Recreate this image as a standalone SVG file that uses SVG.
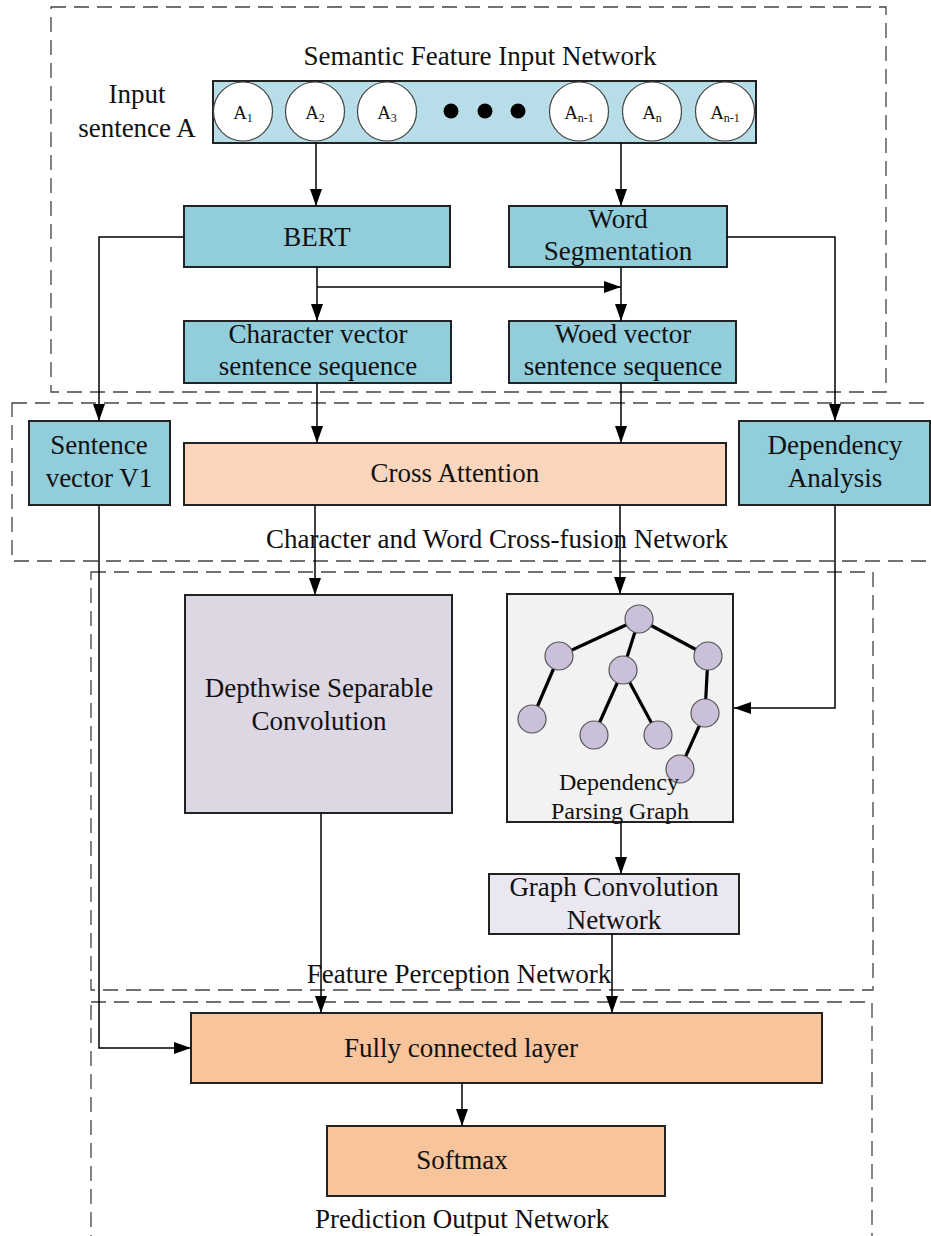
<svg xmlns="http://www.w3.org/2000/svg" width="931" height="1236" viewBox="0 0 931 1236">
<defs>
<marker id="arr" viewBox="0 0 17 12" refX="17" refY="6" markerWidth="17" markerHeight="12" markerUnits="userSpaceOnUse" orient="auto">
<path d="M0,0 L17,6 L0,12 Z" fill="#000"/>
</marker>
<style>
text{font-family:"Liberation Serif","Times New Roman",serif;fill:#111;}
.t{font-size:27px;text-anchor:middle;}
.s{font-size:24px;text-anchor:middle;}
.c{font-size:19px;text-anchor:middle;}
.sub{font-size:12px;}
.dash{fill:none;stroke:#444;stroke-width:1.3;stroke-dasharray:15,8;}
.box{stroke:#222;stroke-width:2;}
.teal{fill:#92CDDC;}
.conn path{fill:none;stroke:#000;stroke-width:1.5;}
.conn .a{marker-end:url(#arr);}
.tree line{stroke:#000;stroke-width:3.2;}
.tree circle{fill:#CBC0D9;stroke:#555;stroke-width:1.2;}
</style>
</defs>
<rect width="931" height="1236" fill="#fff"/>

<g id="regions">
<rect class="dash" x="51" y="7" width="835" height="385"/>
<rect class="dash" x="12" y="403" width="930" height="158"/>
<rect class="dash" x="91" y="572" width="782" height="418"/>
<rect class="dash" x="91" y="1002" width="781" height="240"/>
<text class="t" x="480" y="65">Semantic Feature Input Network</text>
<text class="t" x="497" y="548">Character and Word Cross-fusion Network</text>
<text class="t" x="459" y="983">Feature Perception Network</text>
<text class="t" x="462" y="1228">Prediction Output Network</text>
</g>

<g id="input">
<text class="t" x="137" y="103">Input</text>
<text class="t" x="137" y="137">sentence A</text>
<rect x="213" y="81" width="543" height="62" fill="#B7DEE8" stroke="#222" stroke-width="2"/>
<g fill="#fff" stroke="#444" stroke-width="1.2">
<circle cx="243" cy="111.5" r="29.5"/>
<circle cx="315" cy="111.5" r="29.5"/>
<circle cx="387" cy="111.5" r="29.5"/>
<circle cx="579" cy="111.5" r="29.5"/>
<circle cx="652" cy="111.5" r="29.5"/>
<circle cx="725" cy="111.5" r="29.5"/>
</g>
<g fill="#000">
<circle cx="451" cy="111" r="7.5"/>
<circle cx="485" cy="111" r="7.5"/>
<circle cx="518" cy="111" r="7.5"/>
</g>
<text class="c" x="243" y="119">A<tspan class="sub" dy="3">1</tspan></text>
<text class="c" x="315" y="119">A<tspan class="sub" dy="3">2</tspan></text>
<text class="c" x="387" y="119">A<tspan class="sub" dy="3">3</tspan></text>
<text class="c" x="579" y="119">A<tspan class="sub" dy="3">n-1</tspan></text>
<text class="c" x="652" y="119">A<tspan class="sub" dy="3">n</tspan></text>
<text class="c" x="725" y="119">A<tspan class="sub" dy="3">n-1</tspan></text>
</g>

<g id="bert">
<rect class="box teal" x="184" y="206" width="266" height="61"/>
<text class="t" x="317" y="246">BERT</text>
</g>
<g id="wordseg">
<rect class="box teal" x="509" y="206" width="218" height="61"/>
<text class="t" x="618" y="228">Word</text>
<text class="t" x="618" y="260">Segmentation</text>
</g>
<g id="charvec">
<rect class="box teal" x="184" y="321" width="267" height="62"/>
<text class="t" x="318" y="343">Character vector</text>
<text class="t" x="318" y="375">sentence sequence</text>
</g>
<g id="wordvec">
<rect class="box teal" x="509" y="321" width="227" height="62"/>
<text class="t" x="623" y="343">Woed vector</text>
<text class="t" x="623" y="375">sentence sequence</text>
</g>
<g id="sentvec">
<rect class="box teal" x="29" y="421" width="141" height="84"/>
<text class="t" x="99" y="454">Sentence</text>
<text class="t" x="99" y="487">vector V1</text>
</g>
<g id="crossatt">
<rect class="box" x="184" y="443" width="542" height="62" fill="#FBD6BC"/>
<text class="t" x="455" y="482">Cross Attention</text>
</g>
<g id="depana">
<rect class="box teal" x="739" y="421" width="191" height="84"/>
<text class="t" x="835" y="454">Dependency</text>
<text class="t" x="835" y="487">Analysis</text>
</g>
<g id="dsc">
<rect class="box" x="185" y="595" width="267" height="218" fill="#DDD6E3"/>
<text class="t" x="319" y="697">Depthwise Separable</text>
<text class="t" x="319" y="730">Convolution</text>
</g>
<g id="dpg">
<rect class="box" x="507" y="594" width="226" height="228" fill="#F2F2F2"/>
<g class="tree">
<line x1="639" y1="619" x2="559" y2="656"/>
<line x1="639" y1="619" x2="623" y2="670"/>
<line x1="639" y1="619" x2="708" y2="656"/>
<line x1="559" y1="656" x2="532" y2="719"/>
<line x1="623" y1="670" x2="594" y2="735"/>
<line x1="623" y1="670" x2="658" y2="735"/>
<line x1="708" y1="656" x2="705" y2="713"/>
<line x1="705" y1="713" x2="680" y2="769"/>
<circle cx="639" cy="619" r="14"/>
<circle cx="559" cy="656" r="14"/>
<circle cx="623" cy="670" r="14"/>
<circle cx="708" cy="656" r="14"/>
<circle cx="532" cy="719" r="14"/>
<circle cx="594" cy="735" r="14"/>
<circle cx="658" cy="735" r="14"/>
<circle cx="705" cy="713" r="14"/>
<circle cx="680" cy="769" r="14"/>
</g>
<text class="s" x="619" y="790">Dependency</text>
<text class="s" x="620" y="819">Parsing Graph</text>
</g>
<g id="gcn">
<rect class="box" x="489" y="874" width="250" height="60" fill="#EAE7F0"/>
<text class="t" x="614" y="896">Graph Convolution</text>
<text class="t" x="614" y="929">Network</text>
</g>
<g id="fc">
<rect class="box" x="191" y="1013" width="631" height="70" fill="#F8C49C"/>
<text class="t" x="461" y="1057">Fully connected layer</text>
</g>
<g id="softmax">
<rect class="box" x="327" y="1126" width="338" height="70" fill="#F8C49C"/>
<text class="t" x="462" y="1169">Softmax</text>
</g>

<g id="connectors" class="conn">
<path class="a" d="M316 143 V206"/>
<path class="a" d="M621 143 V206"/>
<path class="a" d="M184 237 H99 V421"/>
<path class="a" d="M727 237 H835 V421"/>
<path class="a" d="M317 267 V321"/>
<path class="a" d="M317 287 H621"/>
<path class="a" d="M621 267 V321"/>
<path class="a" d="M317 383 V443"/>
<path class="a" d="M621 383 V443"/>
<path class="a" d="M315 505 V595"/>
<path class="a" d="M620 505 V594"/>
<path class="a" d="M835 505 V708 H734"/>
<path class="a" d="M99 505 V1048 H191"/>
<path class="a" d="M321 813 V1013"/>
<path class="a" d="M621 822 V874"/>
<path class="a" d="M612 934 V1013"/>
<path class="a" d="M462 1083 V1126"/>
</g>
</svg>
